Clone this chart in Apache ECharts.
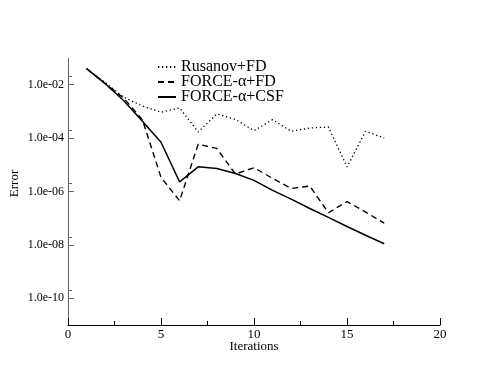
<!DOCTYPE html>
<html>
<head>
<meta charset="utf-8">
<script src="https://cdn.jsdelivr.net/npm/echarts@6/dist/echarts.min.js"></script>
<style>
  html, body { margin: 0; padding: 0; background: #fff; }
  #chart { width: 495px; height: 383px; }
</style>
</head>
<body>
<div id="chart"></div>
<script>
// iteration numbers
const iterations = [1, 2, 3, 4, 5, 6, 7, 8, 9, 10, 11, 12, 13, 14, 15, 16, 17]
// error values
const rusanovFD = [4e-2, 1.2e-2, 3.4e-3, 1.6e-3, 9.3e-4, 1.35e-3, 1.7e-4, 8e-4, 5e-4, 1.9e-4,
  4.9e-4, 1.8e-4, 2.4e-4, 2.6e-4, 8.3e-6, 1.8e-4, 1e-4]
const forceFD = [4e-2, 1.1e-2, 3.1e-3, 4.9e-4, 3.4e-6, 4.5e-7, 5.9e-5, 4.1e-5, 4.5e-6, 7.8e-6,
  3.1e-6, 1.3e-6, 1.6e-6, 1.6e-7, 4.2e-7, 1.7e-7, 6.5e-8]
const forceCSF = [4e-2, 1.1e-2, 2.5e-3, 4.3e-4, 7e-5, 2.3e-6, 8.4e-6, 7.3e-6, 4.7e-6, 2.6e-6,
  1.1e-6, 5.2e-7, 2.3e-7, 1.07e-7, 4.9e-8, 2.3e-8, 1.1e-8]
const seriesNames = ['Rusanov+FD', 'FORCE-\u03b1+FD', 'FORCE-\u03b1+CSF']
// y tick values (labelled) and minor tick values
const yTicks = [1e-10, 1e-8, 1e-6, 1e-4, 1e-2]
const yMinorTicks = [2e-10, 2e-8, 2e-6, 2e-4, 2e-2]
const xTicks = [0, 5, 10, 15, 20]

const font = 'Liberation Serif'

function toPoints(values) {
  return iterations.map((it, i) => [it, Math.log10(values[i])])
}

function expLabel(v) {
  const abs = Math.abs(Math.round(v))
  return '1.0e-' + (abs < 10 ? '0' + abs : abs)
}

const myChart = echarts.init(document.getElementById('chart'))
myChart.setOption({
  animation: false,
  backgroundColor: '#fff',
  textStyle: { fontFamily: font },
  grid: { left: 68, right: 55, top: 58, bottom: 58, containLabel: false, outerBoundsMode: 'none' },
  legend: {
    orient: 'vertical',
    left: 152,
    top: 54,
    itemWidth: 18,
    itemHeight: 10,
    itemGap: -1,
    itemStyle: { opacity: 0 },
    textStyle: { fontFamily: font, fontSize: 16, color: '#000', lineHeight: 15 },
    data: seriesNames
  },
  xAxis: {
    type: 'value',
    min: 0,
    max: 20,
    interval: 5,
    name: 'Iterations',
    nameLocation: 'middle',
    nameGap: 15,
    nameMoveOverlap: false,
    nameTextStyle: { fontFamily: font, fontSize: 13, color: '#000' },
    axisLine: { lineStyle: { color: '#000', width: 1 } },
    axisTick: { inside: true, length: 7, lineStyle: { color: '#000' } },
    minorTick: { show: true, splitNumber: 2, length: 4, lineStyle: { color: '#000' } },
    axisLabel: {
      fontFamily: font, fontSize: 13, color: '#000', margin: 3,
      formatter: v => (xTicks.indexOf(v) >= 0 ? String(v) : '')
    },
    splitLine: { show: false }
  },
  yAxis: [
    {
      type: 'value',
      min: -11,
      max: -1,
      name: 'Error',
      nameLocation: 'middle',
      nameGap: 47,
      nameMoveOverlap: false,
      nameTextStyle: { fontFamily: font, fontSize: 13, color: '#000', padding: [0, 0, 0, 16] },
      axisLine: { show: true, lineStyle: { color: '#666', width: 1 } },
      axisTick: {
        inside: true, length: 6, lineStyle: { color: '#666' },
        customValues: yTicks.map(Math.log10)
      },
      axisLabel: {
        fontFamily: font, fontSize: 12, color: '#000', margin: 4, formatter: expLabel,
        customValues: yTicks.map(Math.log10)
      },
      splitLine: { show: false }
    },
    {
      // minor ticks
      type: 'value',
      min: -11,
      max: -1,
      position: 'left',
      offset: 0,
      axisLine: { show: false },
      axisTick: {
        show: true, inside: true, length: 4, lineStyle: { color: '#666' },
        customValues: yMinorTicks.map(Math.log10)
      },
      axisLabel: { show: false },
      splitLine: { show: false }
    }
  ],
  series: [
    {
      name: seriesNames[0],
      type: 'line',
      symbol: 'none',
      data: toPoints(rusanovFD),
      lineStyle: { color: '#000', width: 1.3, type: [1.3, 2.7] },
      itemStyle: { color: '#000' }
    },
    {
      name: seriesNames[1],
      type: 'line',
      symbol: 'none',
      data: toPoints(forceFD),
      lineStyle: { color: '#000', width: 1.4, type: [6, 4] },
      itemStyle: { color: '#000' }
    },
    {
      name: seriesNames[2],
      type: 'line',
      symbol: 'none',
      data: toPoints(forceCSF),
      lineStyle: { color: '#000', width: 1.5 },
      itemStyle: { color: '#000' }
    }
  ]
})
</script>
</body>
</html>
